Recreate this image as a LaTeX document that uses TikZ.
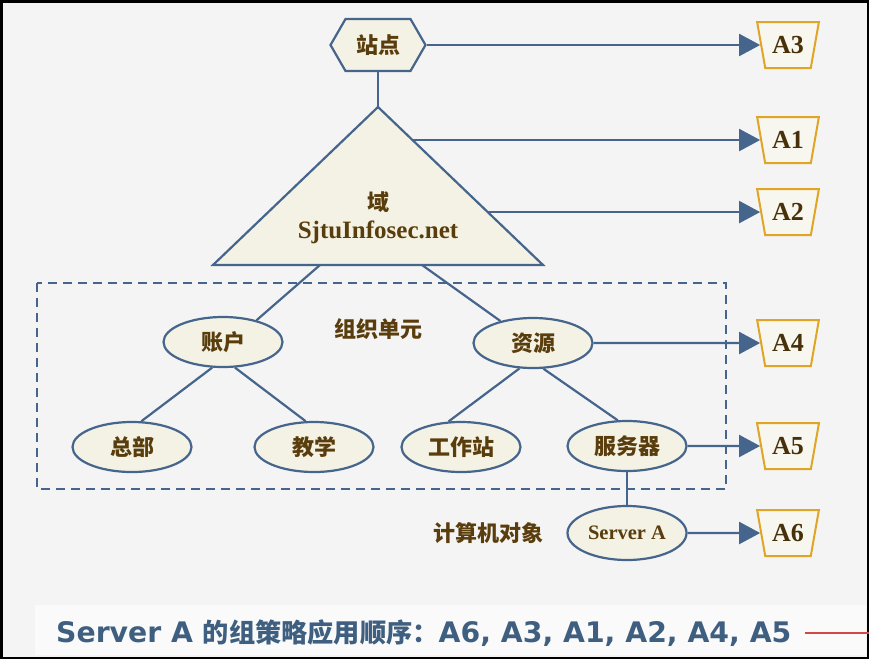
\documentclass[tikz,border=0pt]{standalone}
\usepackage{fontspec}
\setmainfont{Liberation Serif}
\newfontfamily\cjk{Noto Sans CJK SC}
\newfontfamily\dvs{DejaVu Sans}
\usetikzlibrary{shapes.geometric,shapes.symbols,arrows.meta,calc}
\definecolor{edge}{HTML}{46658C}
\definecolor{cream}{HTML}{F3F2E4}
\definecolor{txtbrown}{HTML}{5A3D0C}
\definecolor{gold}{HTML}{E0A526}
\definecolor{bg}{HTML}{F4F4F4}
\definecolor{bottomblue}{HTML}{3F5F80}
\definecolor{redline}{HTML}{D04848}
\begin{document}
\begin{tikzpicture}[x=1pt,y=-1pt,
  link/.style={draw=edge, line width=2.2pt},
  arr/.style={link, -{Triangle[length=21pt,width=22pt]}},
  cjklbl/.style={font=\cjk\bfseries\fontsize{22}{26}\selectfont, text=txtbrown, inner sep=0pt},
  oval/.style={ellipse, draw=edge, fill=cream, line width=2.2pt, minimum width=119pt, minimum height=50pt, inner sep=0pt, cjklbl},
  hexa/.style={signal, signal to=east and west, signal pointer angle=120, draw=edge, fill=cream, line width=2.2pt, minimum width=95pt, minimum height=52pt, inner sep=0pt, cjklbl},
  policy/.style={trapezium, trapezium stretches=true, shape border rotate=180, trapezium left angle=72, trapezium right angle=72, draw=gold, fill=cream!60!white, line width=2pt, minimum width=62pt, minimum height=46pt, inner sep=0pt, font=\bfseries\fontsize{26}{28}\selectfont, text=txtbrown!80!black},
  serifb/.style={font=\bfseries\fontsize{25}{28}\selectfont, text=txtbrown, inner sep=0pt}
]
\useasboundingbox (0,0) rectangle (869,659);
\fill[bg] (0,0) rectangle (869,659);
\fill[white!55!bg] (35,605) rectangle (866,655);
\draw[black, line width=2.5pt] (1.25,1.25) rectangle (867.75,657.75);
\draw[redline, line width=1.2pt] (805,633) -- (869,633);

% dashed OU box
\draw[edge, line width=2.2pt, dash pattern=on 9pt off 6pt] (37,283) rectangle (726,489);

% site and domain
\node[hexa] (site) at (378,45) {站点};
\coordinate (apex) at (378,107);
\coordinate (bl) at (213,265);
\coordinate (br) at (543,265);
\draw[link, fill=cream, line join=miter] (apex) -- (br) -- (bl) -- cycle;
\draw[link] (site.south) -- (apex);
\node[cjklbl] (dom) at (378,202) {域};
\node[serifb] (dname) at (378,232) {SjtuInfosec.net};

% policy boxes
\node[policy] (a3) at (788,45) {A3};
\node[policy] (a1) at (788,140) {A1};
\node[policy] (a2) at (788,212) {A2};
\node[policy] (a4) at (788,343) {A4};
\node[policy] (a5) at (788,446) {A5};
\node[policy] (a6) at (788,533) {A6};

% OU nodes
\node[oval] (acct) at (223,342) {账户};
\node[oval] (res) at (533,343) {资源};
\node[oval] (hq) at (132,447) {总部};
\node[oval] (teach) at (314,447) {教学};
\node[oval] (ws) at (461,447) {工作站};
\node[oval] (srv) at (627,446) {服务器};
\node[oval, minimum height=54pt, font=\bfseries\fontsize{20.5}{22}\selectfont] (sa) at (627,533) {Server A};

\node[cjklbl] (ou) at (378,329) {组织单元};
\node[cjklbl] (comp) at (488,533) {计算机对象};

% connectors
\coordinate (b1) at (320,265);
\coordinate (b2) at (422,265);
\draw[link] (b1) -- (acct.33);
\draw[link] (b2) -- (res.146);
\draw[link] (acct.247) -- (hq.70);
\draw[link] (acct.295) -- (teach.108);
\draw[link] (res.242) -- (ws.116);
\draw[link] (res.292) -- (srv.110);
\draw[link] (srv) -- (sa);

% policy arrows
\coordinate (p1) at ($(apex)!0.209!(br)$);
\coordinate (p2) at ($(apex)!0.665!(br)$);
\draw[arr] (site.east) -- (site.east -| a3.west);
\draw[arr] (p1) -- (p1 -| a1.west);
\draw[arr] (p2) -- (p2 -| a2.west);
\draw[arr] (res) -- (a4);
\draw[arr] (srv) -- (a5);
\draw[arr] (sa) -- (a6);

% bottom order text
\node[anchor=west, inner sep=0pt, text=bottomblue] (order) at (56,633)
  {{\dvs\bfseries\fontsize{28.3}{30}\selectfont Server A }{\cjk\bfseries\fontsize{26.2}{30}\selectfont 的组策略应用顺序：}{\dvs\bfseries\fontsize{28.3}{30}\selectfont A6, A3, A1, A2, A4, A5}};
\end{tikzpicture}
\end{document}
